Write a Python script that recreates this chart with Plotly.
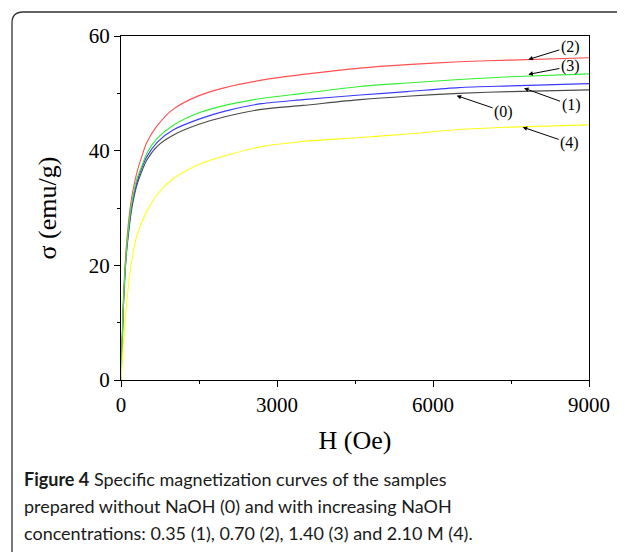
import plotly.graph_objects as go

# ---------------- data ----------------
H = [0, 25, 50, 100, 150, 200, 300, 400, 500, 700, 1000, 1500, 2000, 2700,
     3500, 4600, 5500, 6500, 7500, 9000]

sigma_0 = [0, 7, 13.5, 21.5, 26, 29.5, 33.8, 36.4, 38.4, 40.8, 42.7, 44.6, 45.9, 47.2,
           47.9, 48.9, 49.5, 50.0, 50.3, 50.6]
sigma_1 = [0, 7, 14, 22, 26.5, 30, 34.3, 37, 39, 41.5, 43.6, 45.5, 46.9, 48.2,
           48.9, 49.7, 50.3, 51.0, 51.3, 51.7]
sigma_2 = [0, 8, 15, 23, 28, 31.5, 36, 39, 41.5, 44.4, 47.2, 49.6, 51.0, 52.3,
           53.3, 54.4, 55.0, 55.5, 55.8, 56.2]
sigma_3 = [0, 7, 14, 22, 27, 30.5, 34.9, 37.3, 39.6, 42.2, 44.4, 46.6, 47.9, 49.1,
           50.0, 51.2, 51.8, 52.4, 52.9, 53.4]
sigma_4 = [0, 3.5, 7, 12.5, 17, 20.5, 25, 27.5, 29.5, 32.4, 35.1, 37.6, 39.1, 40.7,
           41.6, 42.3, 42.9, 43.7, 44.1, 44.5]

series_names = ["(0)", "(1)", "(2)", "(3)", "(4)"]
series_vals = [sigma_0, sigma_1, sigma_2, sigma_3, sigma_4]
series_colors = ["#4a4a4a", "#3a3aff", "#ff5050", "#33ee33", "#ffff1a"]

# label annotations: (label, H at arrow head, sigma at arrow head, ax, ay)
label_text = ["(2)", "(3)", "(1)", "(0)", "(4)"]
label_H = [7833, 7833, 7750, 6455, 7725]
label_sigma = [55.9, 53.3, 50.9, 49.6, 44.1]
label_ax = [42, 42, 47, 47, 47]
label_ay = [-13, -8, 17, 16, 16]

x_ticks = [0, 3000, 6000, 9000]
y_ticks = [0, 20, 40, 60]

caption_lines = [
    "<b>Figure 4</b> Specific magnetization curves of the samples",
    "prepared without NaOH (0) and with increasing NaOH",
    "concentrations: 0.35 (1), 0.70 (2), 1.40 (3) and 2.10 M (4).",
]

# ---------------- figure ----------------
W, HGT = 625, 552
OFF = 8  # page body margin offset
L, R, T, B = 121 - OFF, 589 - OFF, 36 - OFF, 380 - OFF

fig = go.Figure()
for name, vals, col in zip(series_names, series_vals, series_colors):
    fig.add_trace(go.Scatter(x=H, y=vals, mode="lines", name=name,
                             line=dict(color=col, width=1.1, shape="spline", smoothing=0.8),
                             showlegend=False))

serif = "Liberation Serif"
axis_common = dict(showline=True, linecolor="black", linewidth=1.3, mirror=True,
                   ticks="outside", ticklen=6, tickwidth=1.2, tickcolor="black",
                   showgrid=False, zeroline=False,
                   tickfont=dict(family=serif, size=21, color="black"),
                   minor=dict(ticks="outside", ticklen=3, tickwidth=1.1, tickcolor="black"))

fig.update_xaxes(range=[0, 9000], tickvals=x_ticks, ticktext=[str(v) for v in x_ticks],
                 minor_dtick=1500,
                 title=dict(text="H (Oe)", font=dict(family=serif, size=26, color="black"), standoff=14),
                 **axis_common)
fig.update_yaxes(range=[0, 60], tickvals=y_ticks, ticktext=[str(v) for v in y_ticks],
                 minor_dtick=10,
                 title=dict(text="σ (emu/g)", font=dict(family=serif, size=26, color="black"), standoff=24),
                 **axis_common)

for t, hx, sy, ax, ay in zip(label_text, label_H, label_sigma, label_ax, label_ay):
    fig.add_annotation(x=hx, y=sy, text=t, showarrow=True, ax=ax, ay=ay,
                       arrowhead=2, arrowsize=0.9, arrowwidth=1, arrowcolor="black",
                       standoff=0, font=dict(family=serif, size=16, color="black"))


def px(xp):
    return (xp - OFF - L) / (R - L)


def py(yp):
    return (B - (yp - OFF)) / (B - T)


for i, line in enumerate(caption_lines):
    fig.add_annotation(xref="paper", yref="paper", x=px(22), y=py(479 + 27 * i),
                       xanchor="left", yanchor="middle", showarrow=False, align="left",
                       text=line, font=dict(family="Lato", size=18, color="#1a1a1a"))

# rounded outer frame
x0, y0, x1, y1, r = 12, 12, 700, 700, 11
path = (f"M {px(x0)},{py(y1)} L {px(x0)},{py(y0 + r)} "
        f"Q {px(x0)},{py(y0)} {px(x0 + r)},{py(y0)} L {px(x1)},{py(y0)}")
fig.add_shape(type="path", path=path, xref="paper", yref="paper",
              line=dict(color="#333333", width=1.3))

fig.update_layout(width=W, height=HGT, margin=dict(l=L, r=W - R, t=T, b=HGT - B),
                  paper_bgcolor="white", plot_bgcolor="white")

fig.write_html("out.html")
